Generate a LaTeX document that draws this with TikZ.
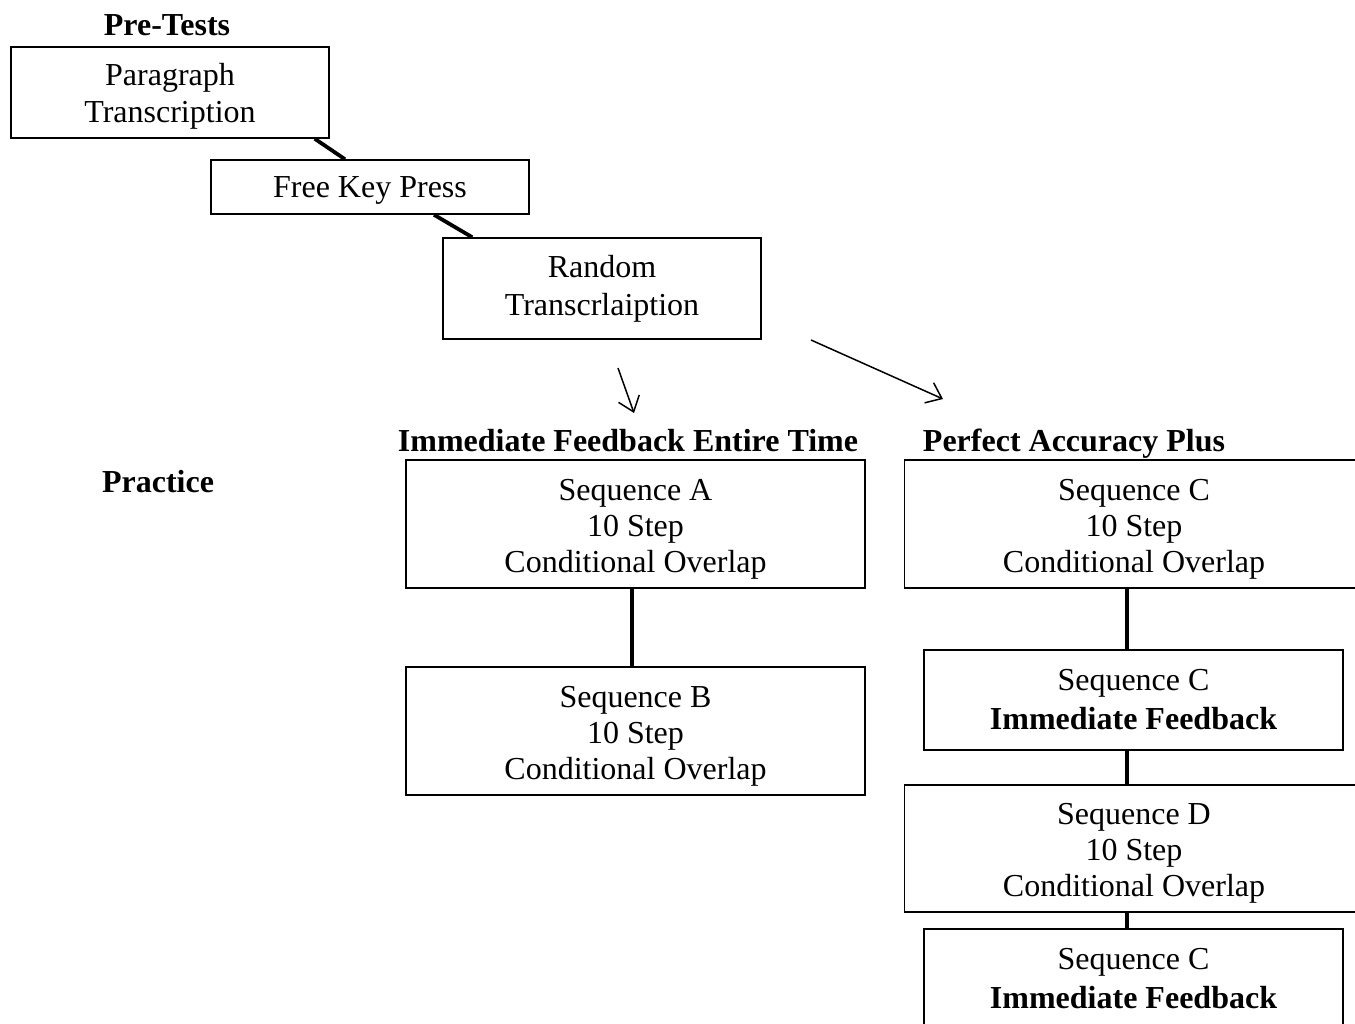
\documentclass[tikz,border=0pt]{standalone}
\usepackage{fontspec}
\setmainfont{Liberation Serif}
\usetikzlibrary{arrows.meta}
% raises the first line so the text sits lower in its box
\newcommand\topgap[1]{\rule{0pt}{#1}}
\begin{document}
\begin{tikzpicture}[x=0.5pt,y=-0.5pt,
    box/.style={draw,line width=0.75pt,inner sep=0pt,align=center,
      font=\fontsize{16}{18}\selectfont},
    pbox/.style={box,minimum width=159pt},
    wbox/.style={box,minimum width=229.5pt,minimum height=64pt},
    fbox/.style={box,minimum width=209.5pt,minimum height=50pt},
    lbl/.style={inner sep=0pt,font=\fontsize{16}{18}\selectfont\bfseries},
    link/.style={line width=1.9pt},
    flow/.style={line width=0.75pt,-{Straight Barb[length=7pt,width=11pt]}}]
  \useasboundingbox (0,0) rectangle (1355,1023);
  % labels
  \node[lbl] (pre) at (167,25) {Pre-Tests};
  \node[lbl] (prac) at (158,482) {Practice};
  \node[lbl,anchor=base] (ifet) at (628,451) {Immediate Feedback Entire Time};
  \node[lbl,anchor=base] (pap) at (1074,451) {Perfect Accuracy Plus};
  % pre-tests
  \node[pbox,minimum height=45.5pt] (para) at (170,92.5)
    {\topgap{15.4pt}Paragraph\\[0.5pt]Transcription};
  \node[pbox,minimum height=27pt] (fkp) at (370,187) {\topgap{13.6pt}Free Key Press};
  \node[pbox,minimum height=50.5pt] (rand) at (602,288.5) {Random\\[1pt]Transcrlaiption};
  % practice, left column
  \node[wbox] (seqA) at (635.5,524) {\topgap{15.6pt}Sequence A\\10 Step\\Conditional Overlap};
  \node[wbox] (seqB) at (635.5,731) {\topgap{15.6pt}Sequence B\\10 Step\\Conditional Overlap};
  % practice, right column
  \node[wbox] (seqC) at (1134,524) {\topgap{15.6pt}Sequence C\\10 Step\\Conditional Overlap};
  \node[fbox] (seqCf) at (1133.5,700) {Sequence C\\[1.5pt]\textbf{Immediate Feedback}};
  \node[wbox,minimum height=63.5pt] (seqD) at (1134,848.5)
    {\topgap{15.6pt}Sequence D\\10 Step\\Conditional Overlap};
  \node[fbox] (seqCg) at (1133.5,979) {Sequence C\\[1.5pt]\textbf{Immediate Feedback}};
  % free arrow ends
  \coordinate (a1s) at (618,368);
  \coordinate (a1e) at (634,413);
  \coordinate (a2s) at (811,340);
  \coordinate (a2e) at (943,399);
  \begin{scope}[link]
    \draw ([xshift=-7.5pt]para.south east) to ([xshift=-12.5pt]fkp.north);
    \draw ([xshift=32pt]fkp.south) to ([xshift=15pt]rand.north west);
    \draw ([xshift=-1.75pt]seqA.south) to ([xshift=-1.75pt]seqB.north);
    \draw ([xshift=-3.5pt]seqC.south) to ([xshift=-3.25pt]seqCf.north);
    \draw ([xshift=-3.25pt]seqCf.south) to ([xshift=-3.5pt]seqD.north);
    \draw ([xshift=-3.5pt]seqD.south) to ([xshift=-3.25pt]seqCg.north);
  \end{scope}
  \draw[flow] (a1s) to (a1e);
  \draw[flow] (a2s) to (a2e);
\end{tikzpicture}
\end{document}
